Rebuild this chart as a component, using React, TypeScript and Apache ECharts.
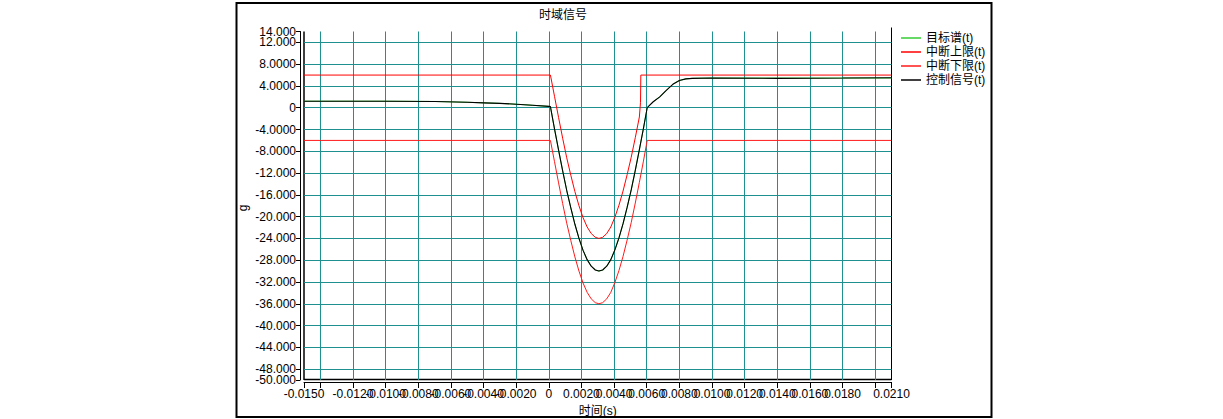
import React, { useEffect, useRef } from 'react';
import * as echarts from 'echarts';

const chartTitle = '时域信号';
const xAxisName = '时间(s)';
const yAxisName = 'g';
const seriesNames = ['目标谱(t)', '中断上限(t)', '中断下限(t)', '控制信号(t)'];
const seriesColors = ['#33cc33', '#ff0000', '#ff1a1a', '#000000'];

const xTicks = [-0.015, -0.014, -0.012, -0.01, -0.008, -0.006, -0.004, -0.002, 0, 0.002, 0.004, 0.006, 0.008, 0.01, 0.012, 0.014, 0.016, 0.018, 0.02, 0.021];
const xLabels = [-0.015, -0.012, -0.01, -0.008, -0.006, -0.004, -0.002, 0, 0.002, 0.004, 0.006, 0.008, 0.01, 0.012, 0.014, 0.016, 0.018, 0.021];
const yTicks = [-50, -48, -44, -40, -36, -32, -28, -24, -20, -16, -12, -8, -4, 0, 4, 8, 12, 14];
// labels split over two label rows so the crowded end labels are all kept
const yLabelsMain = [-50, -44, -40, -36, -32, -28, -24, -20, -16, -12, -8, -4, 0, 4, 8, 14];
const yLabelsNearEnds = [-48, 12];

// control signal (black)
const ctrlTime = [
  -0.015, -0.01, -0.007, -0.005, -0.004, -0.003, -0.002, -0.001, 0,
  0.0001, 0.00035, 0.0006, 0.00085, 0.0011, 0.00135, 0.0016, 0.00185, 0.0021, 0.00235, 0.0026, 0.00285, 0.00307,
  0.0033, 0.00355, 0.0038, 0.00405, 0.0043, 0.00455, 0.0048, 0.00505, 0.0053, 0.00555, 0.0058, 0.00603,
  0.0064, 0.0068, 0.0072, 0.0076, 0.008, 0.0084, 0.0088, 0.01, 0.014, 0.018, 0.021,
];
const ctrlValue = [
  1.2, 1.2, 1.15, 1.0, 0.9, 0.8, 0.65, 0.45, 0.25,
  0.2, -3.9, -7.8, -11.6, -15.2, -18.4, -21.4, -24.0, -26.2, -27.9, -29.1, -29.8, -30.0,
  -29.8, -29.1, -27.9, -26.1, -23.9, -21.3, -18.3, -15.1, -11.5, -7.7, -3.8, 0.0,
  1.1, 2.0, 3.2, 4.3, 5.0, 5.3, 5.4, 5.45, 5.4, 5.45, 5.5,
];

// target spectrum (green, under the control signal)
const targetTime = [
  -0.015, -0.01, -0.007, -0.005, -0.004, -0.003, -0.002, -0.001, 0,
  0.0001, 0.00035, 0.0006, 0.00085, 0.0011, 0.00135, 0.0016, 0.00185, 0.0021, 0.00235, 0.0026, 0.00285, 0.00307,
  0.0033, 0.00355, 0.0038, 0.00405, 0.0043, 0.00455, 0.0048, 0.00505, 0.0053, 0.00555, 0.0058, 0.00603,
  0.0064, 0.0068, 0.0072, 0.0076, 0.008, 0.0084, 0.0088, 0.01, 0.014, 0.018, 0.021,
];
const targetValue = [
  1.2, 1.2, 1.15, 1.0, 0.9, 0.8, 0.65, 0.45, 0.25,
  0.2, -3.9, -7.8, -11.6, -15.2, -18.4, -21.4, -24.0, -26.2, -27.9, -29.1, -29.8, -30.0,
  -29.8, -29.1, -27.9, -26.1, -23.9, -21.3, -18.3, -15.1, -11.5, -7.7, -3.8, 0.0,
  1.1, 2.0, 3.2, 4.3, 5.0, 5.3, 5.4, 5.45, 5.45, 5.45, 5.45,
];

// upper abort limit (red)
const upperTime = [
  -0.015,
  0.0001, 0.00035, 0.0006, 0.00085, 0.0011, 0.00135, 0.0016, 0.00185, 0.0021, 0.00235, 0.0026, 0.00285, 0.00307,
  0.0033, 0.00355, 0.0038, 0.00405, 0.0043, 0.00455, 0.0048, 0.00505, 0.0053, 0.00555,
  0.00562, 0.00564, 0.021,
];
const upperValue = [
  6,
  6, 2.1, -1.8, -5.6, -9.2, -12.4, -15.4, -18.0, -20.2, -21.9, -23.1, -23.8, -24.0,
  -23.8, -23.1, -21.9, -20.1, -17.9, -15.3, -12.3, -9.1, -5.5, -1.7,
  1.0, 6, 6,
];

// lower abort limit (red)
const lowerTime = [
  -0.015,
  0.0001, 0.00035, 0.0006, 0.00085, 0.0011, 0.00135, 0.0016, 0.00185, 0.0021, 0.00235, 0.0026, 0.00285, 0.00307,
  0.0033, 0.00355, 0.0038, 0.00405, 0.0043, 0.00455, 0.0048, 0.00505, 0.0053, 0.00555, 0.0058, 0.00603,
  0.021,
];
const lowerValue = [
  -6,
  -6, -9.9, -13.8, -17.6, -21.2, -24.4, -27.4, -30.0, -32.2, -33.9, -35.1, -35.8, -36.0,
  -35.8, -35.1, -33.9, -32.1, -29.9, -27.3, -24.3, -21.1, -17.5, -13.7, -9.8, -6,
  -6,
];

const zip = (xs: number[], ys: number[]) => xs.map((x, i) => [x, ys[i]]);

const FONT = 'Arial, "Liberation Sans", "Noto Sans CJK SC", sans-serif';

export default function App() {
  const ref = useRef<HTMLDivElement>(null);
  useEffect(() => {
    if (!ref.current) return;
    const chart = echarts.init(ref.current, undefined, { renderer: 'svg' });
    const W = 1223, H = 419;
    const gl = 304, gr = 891.5, gt = 31.5, gb = 380;
    const gridColor = '#1f9090';
    const lineSeries = (i: number, data: number[][], width: number) => ({
      name: seriesNames[i],
      type: 'line',
      data,
      showSymbol: false,
      symbol: 'none',
      lineStyle: { color: seriesColors[i], width },
      itemStyle: { color: seriesColors[i] },
      emphasis: { disabled: true },
    });
    const yFormat = (v: number) => (Math.abs(v) < 1e-12 ? '0' : v.toPrecision(5));
    chart.setOption({
      animation: false,
      backgroundColor: '#ffffff',
      textStyle: { fontFamily: FONT },
      grid: {
        left: gl,
        right: W - gr,
        top: gt,
        bottom: H - gb,
        show: false,
        containLabel: false,
        outerBoundsMode: 'none',
      },
      legend: {
        orient: 'vertical',
        left: 896,
        top: 27,
        itemWidth: 20,
        itemHeight: 1.5,
        itemGap: 2,
        icon: 'rect',
        selectedMode: false,
        textStyle: { fontSize: 12, color: '#000', lineHeight: 12, fontFamily: FONT, padding: [0, 0, 0, 0] },
        data: seriesNames,
      },
      xAxis: {
        type: 'value',
        position: 'bottom',
        min: -0.015,
        max: 0.021,
        offset: 2,
        name: xAxisName,
        nameLocation: 'middle',
        nameGap: 19,
        nameTextStyle: { fontSize: 12, color: '#000', fontFamily: FONT },
        axisLine: { show: true, onZero: false, lineStyle: { color: '#000', width: 1 } },
        axisTick: { show: true, length: 6, customValues: xTicks, lineStyle: { color: '#000' } },
        axisLabel: {
          customValues: xLabels,
          showMinLabel: true,
          showMaxLabel: true,
          margin: 6,
          fontSize: 12,
          color: '#000',
          fontFamily: FONT,
          formatter: (v: number) => (Math.abs(v) < 1e-12 ? '0' : v.toFixed(4)),
        },
        splitLine: { show: true, showMinLine: false, showMaxLine: false, lineStyle: { color: gridColor, width: 1 } },
      },
      yAxis: [
        {
          type: 'value',
          position: 'left',
          min: -50,
          max: 14,
          offset: 4,
          axisLine: { show: true, onZero: false, lineStyle: { color: '#000', width: 1 } },
          axisTick: { show: true, length: 4, customValues: yTicks, lineStyle: { color: '#000' } },
          axisLabel: {
            customValues: yLabelsMain,
            showMinLabel: true,
            showMaxLabel: true,
            hideOverlap: false,
            margin: 4,
            fontSize: 12,
            lineHeight: 11,
            color: '#000',
            fontFamily: FONT,
            formatter: yFormat,
          },
          splitLine: { show: true, showMinLine: false, showMaxLine: false, lineStyle: { color: gridColor, width: 1 } },
        },
        {
          type: 'value',
          position: 'left',
          min: -50,
          max: 14,
          offset: 4,
          axisLine: { show: false, onZero: false },
          axisTick: { show: false },
          splitLine: { show: false },
          axisLabel: {
            customValues: yLabelsNearEnds,
            hideOverlap: false,
            margin: 4,
            fontSize: 12,
            lineHeight: 11,
            color: '#000',
            fontFamily: FONT,
            formatter: yFormat,
          },
        },
      ],
      graphic: [
        { type: 'rect', silent: true, shape: { x: 236.5, y: 3, width: 755, height: 414 }, style: { fill: 'none', stroke: '#000', lineWidth: 2 } },
        { type: 'line', silent: true, shape: { x1: gl, y1: gt, x2: gl, y2: gb }, style: { stroke: '#000', lineWidth: 1.5 } },
        { type: 'line', silent: true, shape: { x1: gr, y1: gt - 4, x2: gr, y2: gb }, style: { stroke: '#000', lineWidth: 1 } },
        { type: 'line', silent: true, shape: { x1: gl, y1: gb - 0.5, x2: gr, y2: gb - 0.5 }, style: { stroke: '#000', lineWidth: 1.5 } },
        { type: 'text', silent: true, x: 563, y: 15, style: { text: chartTitle, fill: '#000', font: `12px ${FONT}`, align: 'center', verticalAlign: 'middle' } },
        { type: 'text', silent: true, x: 243, y: 208, rotation: Math.PI / 2, style: { text: yAxisName, fill: '#000', font: `12px ${FONT}`, align: 'center', verticalAlign: 'middle' } },
      ],
      series: [
        lineSeries(0, zip(targetTime, targetValue), 1),
        lineSeries(1, zip(upperTime, upperValue), 1),
        lineSeries(2, zip(lowerTime, lowerValue), 1),
        lineSeries(3, zip(ctrlTime, ctrlValue), 1.1),
      ],
    });
    return () => chart.dispose();
  }, []);
  return (
    <div
      ref={ref}
      style={{ position: 'absolute', left: 0, top: 0, width: 1223, height: 419, background: '#fff' }}
    />
  );
}
